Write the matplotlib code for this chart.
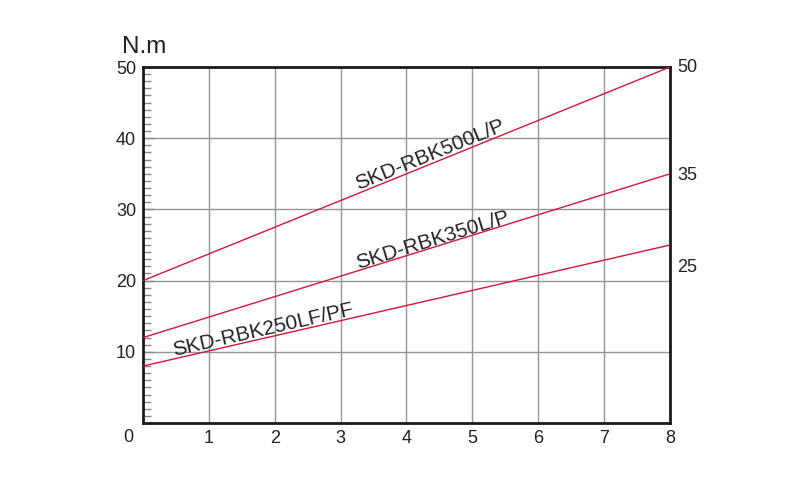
import numpy as np
import matplotlib.pyplot as plt
from matplotlib.ticker import MultipleLocator

# speed range 0..8, torque at start and end of each model line
models = ['SKD-RBK500L/P', 'SKD-RBK350L/P', 'SKD-RBK250LF/PF']
x_ends = [0, 8]
torque_start = [20, 12, 8]
torque_end = [50, 35, 25]
end_label_y = [50, 34.7, 21.9]
label_pos = [(4.36, 37.6), (4.40, 25.7), (1.82, 13.1)]
label_rot = [22.1, 17.1, 12.9]

red = '#d4163c'
txt = '#222222'
FONT = 'Liberation Sans'

fig = plt.figure(figsize=(8, 4.79), dpi=100)
ax = fig.add_axes([0.17875, 0.1169, 0.65875, 0.7432])

for name, y0, y1, ly, pos, rot in zip(models, torque_start, torque_end, end_label_y, label_pos, label_rot):
    ax.plot(x_ends, [y0, y1], color=red, lw=1.0, zorder=3)
    ax.text(pos[0], pos[1], name, rotation=rot, rotation_mode='anchor',
            ha='center', va='center', fontsize=15, color=txt, family=FONT)
    ax.text(8.11, ly, str(y1), ha='left', va='center', fontsize=13,
            color=txt, family=FONT, clip_on=False)

ax.set_xlim(0, 8)
ax.set_ylim(0, 50)
ax.set_xticks(range(1, 9))
ax.set_yticks(range(10, 51, 10))
ax.yaxis.set_minor_locator(MultipleLocator(1))
ax.grid(True, color='#959595', lw=1.0)
ax.set_axisbelow(True)

for lab in ax.get_xticklabels() + ax.get_yticklabels():
    lab.set_family(FONT)
    lab.set_fontsize(13)
    lab.set_color(txt)

ax.tick_params(axis='x', length=0, pad=5)
ax.tick_params(axis='y', which='major', direction='in', length=8, width=1, color='#888888', pad=5)
ax.tick_params(axis='y', which='minor', direction='in', length=6, width=1, color='#888888')

for sp in ax.spines.values():
    sp.set_linewidth(2)
    sp.set_color('#1a1a1a')

ax.text(-0.23, -0.8, '0', ha='center', va='top', fontsize=13, color=txt,
        family=FONT, clip_on=False)
ax.text(0.02, 51.3, 'N.m', ha='center', va='bottom', fontsize=17.5, color=txt,
        family=FONT, clip_on=False)

fig.savefig('out.png', dpi=100)
